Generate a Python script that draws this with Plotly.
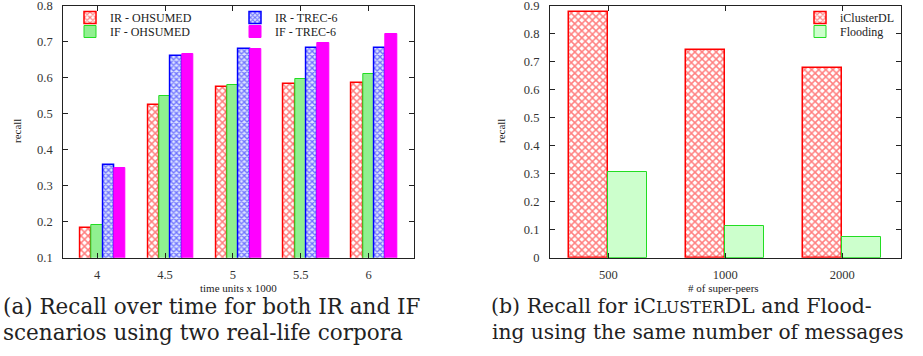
import plotly.graph_objects as go

# ---- data: chart (a) ----
time_cats = ["4", "4.5", "5", "5.5", "6"]
ir_ohsumed = [0.182, 0.524, 0.574, 0.582, 0.585]
if_ohsumed = [0.192, 0.550, 0.580, 0.596, 0.610]
ir_trec6 = [0.357, 0.660, 0.680, 0.682, 0.684]
if_trec6 = [0.349, 0.666, 0.680, 0.697, 0.723]

# ---- data: chart (b) ----
peer_cats = ["500", "1000", "2000"]
icluster = [0.880, 0.743, 0.678]
flooding = [0.306, 0.112, 0.074]

SERIF = "Liberation Serif"
CAPFONT = "DejaVu Serif"
W, H = 923, 356

fig = go.Figure()

red_marker = dict(color="white", line=dict(color="#ff0000", width=1.5),
                  pattern=dict(shape="x", fgcolor="#ff0000", bgcolor="white", size=5, solidity=0.5))

bw_a = 1 / 6
series_a = [
    ("IR - OHSUMED", ir_ohsumed, -0.25, red_marker, "legend", 1),
    ("IF - OHSUMED", if_ohsumed, -1 / 12, dict(color="#90f090", line=dict(color="#22dd22", width=1)), "legend2", 1),
    ("IR - TREC-6", ir_trec6, 1 / 12, dict(color="white", line=dict(color="#0000ff", width=1.5),
        pattern=dict(shape="x", fgcolor="#0000ff", bgcolor="#dde4ff", size=4, solidity=0.55)), "legend", 2),
    ("IF - TREC-6", if_trec6, 0.25, dict(color="#ff00ff", line=dict(color="#ff00ff", width=1)), "legend2", 2),
]
for name, vals, off, marker, lg, rank in series_a:
    fig.add_trace(go.Bar(x=time_cats, y=vals, name=name, width=bw_a, offset=off,
                         marker=marker, xaxis="x", yaxis="y", legend=lg, legendrank=rank))

bw_b = 1 / 3
fig.add_trace(go.Bar(x=peer_cats, y=icluster, name="iClusterDL", width=bw_b, offset=-1 / 3,
                     marker=red_marker, xaxis="x2", yaxis="y2", legend="legend3"))
fig.add_trace(go.Bar(x=peer_cats, y=flooding, name="Flooding", width=bw_b, offset=0,
                     marker=dict(color="#ccffcc", line=dict(color="#22dd22", width=1)),
                     xaxis="x2", yaxis="y2", legend="legend4"))

def px_x(p):
    return p / W

def px_y(p):
    return 1 - p / H

axis_common = dict(showline=True, linecolor="#222", linewidth=1.2, mirror="ticks", ticks="inside",
                   ticklen=5, tickcolor="#222", showgrid=False, zeroline=False, automargin=False,
                   ticklabeloverflow="allow",
                   tickfont=dict(family=SERIF, size=12.5, color="#333"))

legend_common = dict(orientation="h", bgcolor="rgba(0,0,0,0)", yanchor="top", xanchor="left",
                     font=dict(family=SERIF, size=12, color="#222"), itemwidth=30)

fig.update_layout(
    width=W, height=H, margin=dict(l=0, r=0, t=0, b=0, autoexpand=False),
    paper_bgcolor="white", plot_bgcolor="white", barmode="overlay", bargap=0,
    xaxis=dict(domain=[px_x(63.3), px_x(414)], anchor="y", type="category",
               range=[-0.5, 4.67], ticklabelstandoff=5, **axis_common),
    yaxis=dict(domain=[px_y(257.7), px_y(6)], anchor="x", range=[0.1, 0.80001],
               tickvals=[0.1, 0.2, 0.3, 0.4, 0.5, 0.6, 0.7, 0.8], tickformat=".1f",
               ticklabelstandoff=7, **axis_common),
    xaxis2=dict(domain=[px_x(550), px_x(900.7)], anchor="y2", type="category",
                range=[-0.5, 2.5], ticklabelstandoff=5, **axis_common),
    yaxis2=dict(domain=[px_y(257.7), px_y(6)], anchor="x2", range=[0, 0.90001],
                tickvals=[0, 0.1, 0.2, 0.3, 0.4, 0.5, 0.6, 0.7, 0.8, 0.9],
                ticktext=["0", "0.1", "0.2", "0.3", "0.4", "0.5", "0.6", "0.7", "0.8", "0.9"],
                ticklabelstandoff=7, **axis_common),
    legend=dict(x=px_x(70), y=px_y(3), entrywidth=120, **legend_common),
    legend2=dict(x=px_x(70), y=px_y(17), entrywidth=120, **legend_common),
    legend3=dict(x=px_x(800), y=px_y(3), **legend_common),
    legend4=dict(x=px_x(800), y=px_y(17), **legend_common),
)

ann = []
def add_text(text, x, y, size, angle=0, xanchor="center", family=SERIF):
    ann.append(dict(text=text, x=px_x(x), y=px_y(y), xref="paper", yref="paper", showarrow=False,
                    xanchor=xanchor, yanchor="middle", textangle=angle,
                    font=dict(family=family, size=size, color="#222")))

add_text("recall", 17, 131, 11, angle=-90)
add_text("recall", 501, 131, 11, angle=-90)
add_text("time units x 1000", 238.5, 288, 11)
add_text("# of super-peers", 723, 288, 11)

add_text("(a) Recall over time for both IR and IF", 1, 306, 21.5, xanchor="left", family=CAPFONT)
add_text("scenarios using two real-life corpora", 1, 332, 21.5, xanchor="left", family=CAPFONT)
add_text("(b) Recall for iC<span style='font-size:16px'>LUSTER</span>DL and Flood-", 489, 306, 20.5,
         xanchor="left", family=CAPFONT)
add_text("ing using the same number of messages", 490, 332, 20.2, xanchor="left", family=CAPFONT)

fig.update_layout(annotations=ann)
fig.write_html("out.html", config={"displayModeBar": False},
               post_script="document.body.style.margin='0';document.body.style.overflow='hidden';")
